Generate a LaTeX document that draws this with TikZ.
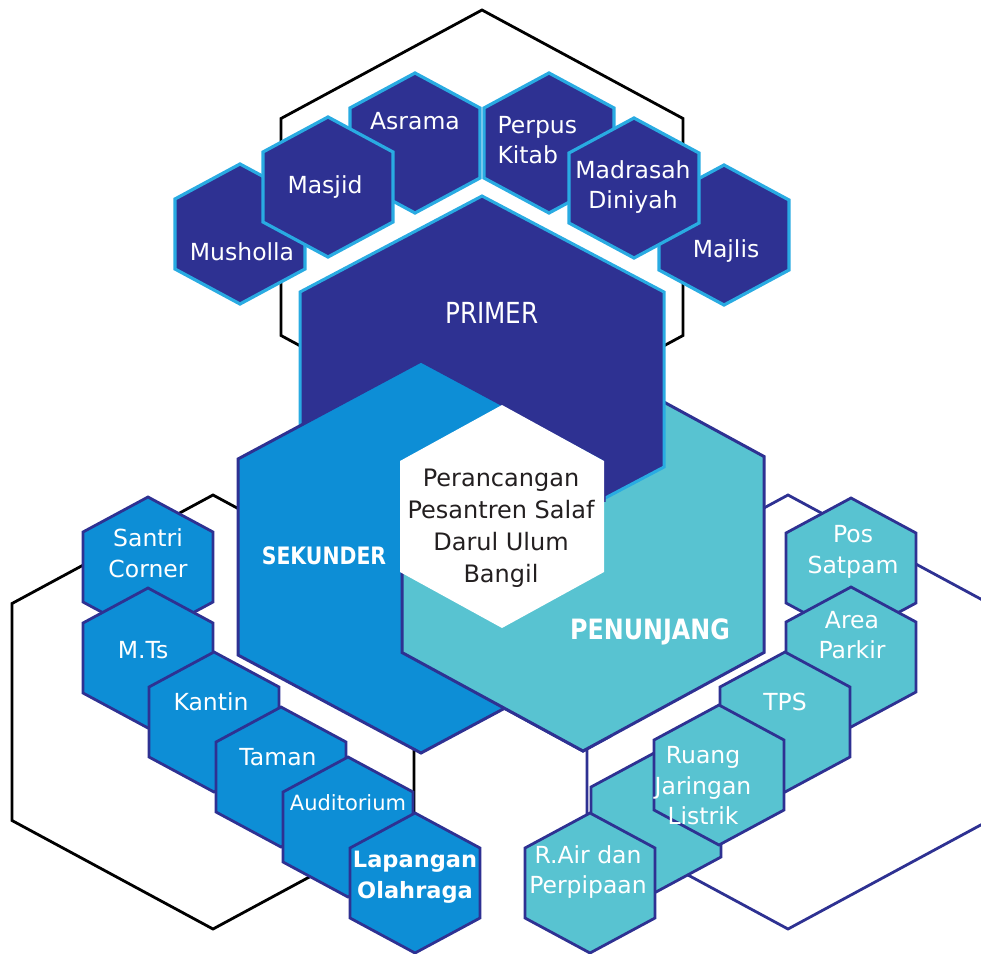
\documentclass[tikz,border=0pt]{standalone}
\usepackage{fontspec}
\setmainfont{DejaVu Sans}
\newfontfamily\capsfont{DejaVu Sans}[FakeStretch=0.85]
\usepackage{tikz}
\usetikzlibrary{positioning}

\definecolor{navy}{HTML}{2E3192}
\definecolor{skyline}{HTML}{29ABE2}
\definecolor{sekblue}{HTML}{0D8ED6}
\definecolor{penteal}{HTML}{58C3D1}
\definecolor{inktext}{HTML}{231F20}

% pointy-top hexagon: centre x, centre y, half width, half side, cap
\newcommand{\hexa}[5]{(#1,#2-#4-#5) -- (#1+#3,#2-#4) -- (#1+#3,#2+#4) -- (#1,#2+#4+#5) -- (#1-#3,#2+#4) -- (#1-#3,#2-#4) -- cycle}

\begin{document}
\begin{tikzpicture}[x=1pt, y=-1pt,
  outline/.style={line width=2.8pt},
  topcell/.style={fill=navy, draw=skyline, line width=3.2pt},
  leftcell/.style={fill=sekblue, draw=navy, line width=2.8pt},
  rightcell/.style={fill=penteal, draw=navy, line width=2.8pt},
  lbl/.style={text=white, align=center, font=\fontsize{23.5}{30.5}\selectfont},
  boldlbl/.style={text=white, align=center, font=\fontsize{22.5}{30.5}\selectfont\bfseries},
  caps/.style={text=white, font=\capsfont\fontsize{#1}{#1}\selectfont},
  boldcaps/.style={text=white, font=\capsfont\fontsize{#1}{#1}\selectfont\bfseries}]
  \useasboundingbox (0,0) rectangle (981,953);
  \clip (0,0) rectangle (981,953);

  % Outer frames
  \draw[outline, black] \hexa{482}{227}{201}{108.5}{108.5};
  \draw[outline, black] \hexa{213}{712}{201}{108.5}{108.5};
  \draw[outline, navy] \hexa{788}{712}{201}{108.5}{108.5};

  % Primer cells
  \filldraw[topcell] \hexa{415}{143}{65}{35}{35};
  \filldraw[topcell] \hexa{549}{143}{65}{35}{35};
  \filldraw[topcell] \hexa{240}{234}{65}{35}{35};
  \filldraw[topcell] \hexa{724}{235}{65}{35}{35};
  \filldraw[topcell] \hexa{328}{187}{65}{35}{35};
  \filldraw[topcell] \hexa{634}{188}{65}{35}{35};

  % Sekunder cells
  \filldraw[leftcell] \hexa{148}{567}{65}{35}{35};
  \filldraw[leftcell] \hexa{148}{658}{65}{35}{35};
  \filldraw[leftcell] \hexa{214}{722}{65}{35}{35};
  \filldraw[leftcell] \hexa{281}{777}{65}{35}{35};
  \filldraw[leftcell] \hexa{348}{827}{65}{35}{35};
  \filldraw[leftcell] \hexa{415}{883}{65}{35}{35};

  % Penunjang cells
  \filldraw[rightcell] \hexa{851}{568}{65}{35}{35};
  \filldraw[rightcell] \hexa{851}{657}{65}{35}{35};
  \filldraw[rightcell] \hexa{785}{722}{65}{35}{35};
  \filldraw[rightcell] \hexa{656}{822}{65}{35}{35};
  \filldraw[rightcell] \hexa{719}{775}{65}{35}{35};
  \filldraw[rightcell] \hexa{590}{883}{65}{35}{35};

  % Main hexagons, woven
  \filldraw[rightcell, line width=3pt] \hexa{583}{554.5}{181}{98}{98.5};
  \filldraw[fill=navy, draw=skyline, line width=3pt] \hexa{482}{379.5}{182}{87.5}{96};
  \filldraw[leftcell, line width=3pt] \hexa{421}{557}{183}{98}{98};
  \begin{scope}
    \clip (380,502) rectangle (612,790);
    \filldraw[rightcell, line width=3pt] \hexa{583}{554.5}{181}{98}{98.5};
  \end{scope}
  \fill[white] \hexa{502}{516.5}{102}{55.5}{56};

  % Labels
  \node[caps=29] (primer) at (492,313) {PRIMER};
  \node[boldcaps=24] (sekunder) at (324,556) {SEKUNDER};
  \node[boldcaps=28] (penunjang) at (650,632) {PENUNJANG};
  \node[align=center, text=inktext, font=\fontsize{24}{32}\selectfont] (judul) at (501,528)
    {Perancangan\\Pesantren Salaf\\Darul Ulum\\Bangil};

  \node[lbl] (musholla) at (242,252) {Musholla};
  \node[lbl] (masjid) at (325,187) {Masjid};
  \node[lbl] (asrama) at (415,121) {Asrama};
  \node[lbl, align=left, anchor=west] (perpus) at (494,140) {Perpus\\Kitab};
  \node[lbl] (madrasah) at (633,187) {Madrasah\\Diniyah};
  \node[lbl] (majlis) at (726,251) {Majlis};

  \node[lbl] (santri) at (148,553) {Santri\\Corner};
  \node[lbl] (mts) at (143,650) {M.Ts};
  \node[lbl] (kantin) at (211,702) {Kantin};
  \node[lbl] (taman) at (278,757) {Taman};
  \node[lbl, font=\fontsize{21}{30}\selectfont] (auditorium) at (348,803) {Auditorium};
  \node[boldlbl] (lapangan) at (415,877) {Lapangan\\Olahraga};

  \node[lbl] (pos) at (853,552) {Pos\\Satpam};
  \node[lbl] (parkir) at (852,635) {Area\\Parkir};
  \node[lbl] (tps) at (785,702) {TPS};
  \node[lbl] (ruang) at (703,786) {Ruang\\Jaringan\\Listrik};
  \node[lbl] (rair) at (588,872) {R.Air dan\\Perpipaan};
\end{tikzpicture}
\end{document}
